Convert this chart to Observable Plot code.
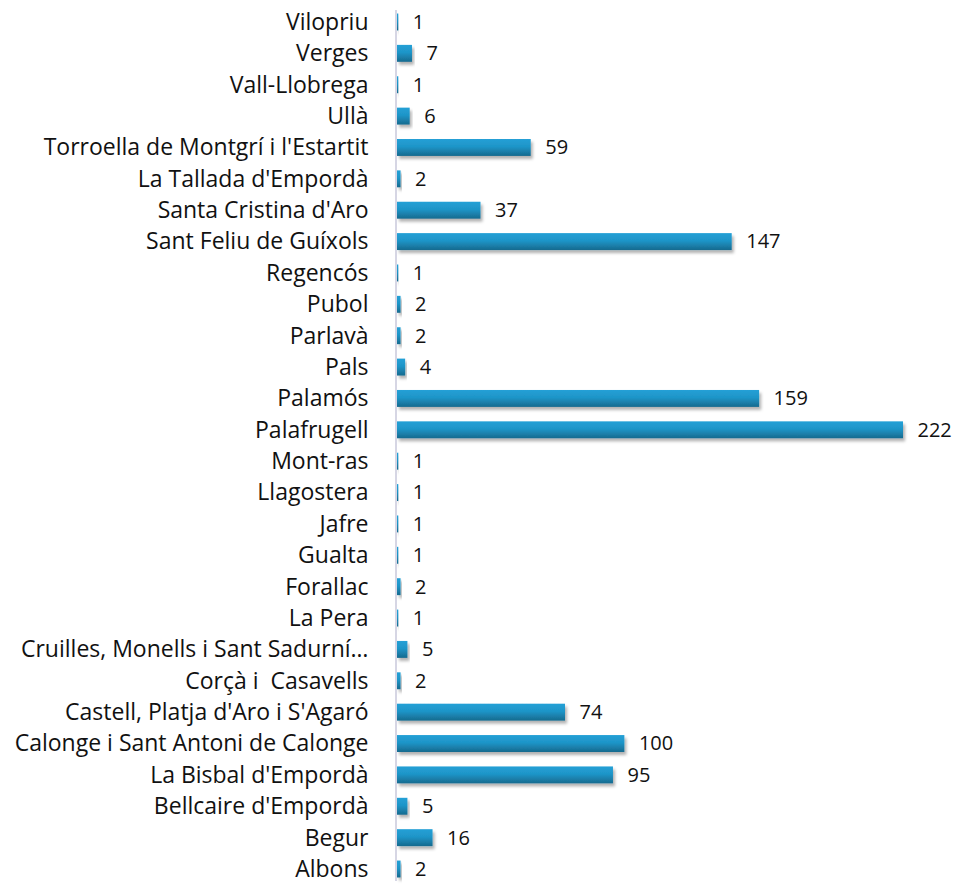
<!DOCTYPE html>
<html><head><meta charset="utf-8">
<script src="https://cdn.jsdelivr.net/npm/d3@7"></script>
<script src="https://cdn.jsdelivr.net/npm/@observablehq/plot@0.6"></script>
<style>body{margin:0;background:#fff}</style>
</head><body><div id="chart"></div>
<script>
const municipalities = ["Vilopriu","Verges","Vall-Llobrega","Ullà","Torroella de Montgrí i l'Estartit","La Tallada d'Empordà","Santa Cristina d'Aro","Sant Feliu de Guíxols","Regencós","Pubol","Parlavà","Pals","Palamós","Palafrugell","Mont-ras","Llagostera","Jafre","Gualta","Forallac","La Pera","Cruilles, Monells i Sant Sadurní…","Corçà i  Casavells","Castell, Platja d'Aro i S'Agaró","Calonge i Sant Antoni de Calonge","La Bisbal d'Empordà","Bellcaire d'Empordà","Begur","Albons"];
const counts = [1,7,1,6,59,2,37,147,1,2,2,4,159,222,1,1,1,1,2,1,5,2,74,100,95,5,16,2];

const data = municipalities.map((m, i) => ({m, v: counts[i]}));
const font = "'Open Sans', sans-serif";

const chart = Plot.plot({
  width: 960, height: 884,
  marginLeft: 396, marginRight: 57, marginTop: 10, marginBottom: 3,
  style: {fontFamily: font, background: "#fff", fontSize: "20px"},
  x: {domain: [0, 222], axis: null},
  y: {domain: municipalities, paddingInner: 0.46, paddingOuter: 0.112, round: false, label: null},
  marks: [
    Plot.axisY({tickSize: 0, tickPadding: 28, fontSize: 23, fill: "#111", label: null}),
    Plot.barX(data, {x: "v", y: "m", fill: "url(#barGrad)", insetLeft: 1}),
    Plot.ruleX([0], {stroke: "#d6d6e4", strokeWidth: 2, dx: -0.5}),
    Plot.text(data, {x: "v", y: "m", text: d => String(d.v), dx: 14, textAnchor: "start", fontSize: 20, fill: "#111"})
  ]
});

const svg = d3.select(chart);
const defs = svg.insert("defs", ":first-child");
const g = defs.append("linearGradient").attr("id","barGrad").attr("x1",0).attr("y1",0).attr("x2",0).attr("y2",1);
g.append("stop").attr("offset","0%").attr("stop-color","#25a0d6");
g.append("stop").attr("offset","45%").attr("stop-color","#1e95c8");
g.append("stop").attr("offset","100%").attr("stop-color","#176a8e");
const f = defs.append("filter").attr("id","shadow").attr("x","-10%").attr("y","-50%").attr("width","130%").attr("height","250%");
f.append("feDropShadow").attr("dx",2).attr("dy",3).attr("stdDeviation",1.8).attr("flood-color","#000").attr("flood-opacity",0.3);
svg.selectAll("g[aria-label='bar'] rect").attr("filter","url(#shadow)");
document.getElementById("chart").appendChild(chart);
</script>
</body></html>
